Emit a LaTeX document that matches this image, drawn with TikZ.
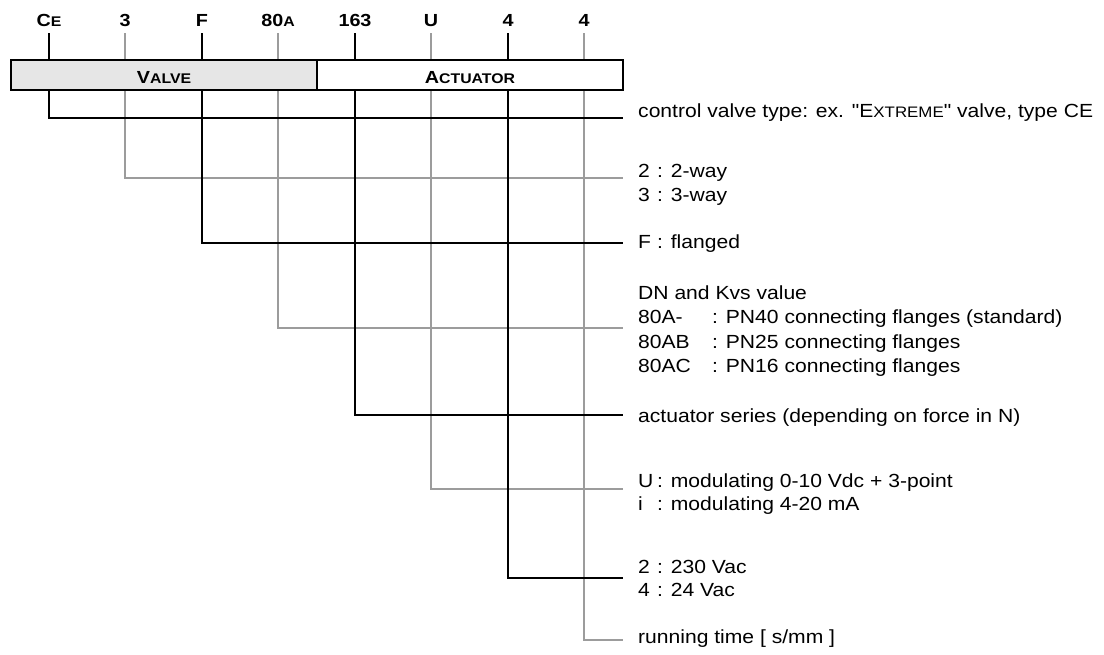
\documentclass[tikz,border=0pt]{standalone}
\usepackage{fontspec}
\usepackage{graphicx}
\newfontfamily\arialish{Liberation Sans}
\newcommand\hsr[1]{\scalebox{1.11}[1]{#1}}
\newcommand\hsb[1]{\scalebox{1.13}[1]{#1}}
\newcommand\smcb[1]{{\fontsize{14}{15}\selectfont #1}}
\newcommand\smcr[1]{{\fontsize{15.2}{16}\selectfont #1}}
\definecolor{valvefill}{HTML}{E6E6E6}
\definecolor{lightline}{HTML}{9C9C9C}
\begin{document}
\begin{tikzpicture}[x=1pt,y=-1pt,
  code/.style={font=\arialish\fontsize{17.5}{18}\selectfont\bfseries, inner sep=0pt, anchor=base},
  desc/.style={font=\arialish\fontsize{19}{20}\selectfont, inner sep=0pt, anchor=base west},
  blk/.style={line width=1.6pt, draw=black},
  gry/.style={line width=1.6pt, draw=lightline},
  part/.style={draw=black, line width=2pt, minimum height=30pt, inner sep=0pt,
    text height=16.6pt, text depth=0pt,
    font=\arialish\fontsize{17.5}{18}\selectfont\bfseries}]
\useasboundingbox (0,0) rectangle (1104,654);

% code letters
\node[code] (cCE) at (49,26.7) {\hsb{C\smcb{E}}};
\node[code] (c3) at (125,26.7) {\hsb{3}};
\node[code] (cF) at (202,26.7) {\hsb{F}};
\node[code] (c80) at (278,26.7) {\hsb{80\smcb{A}}};
\node[code] (c163) at (355,26.7) {\hsb{163}};
\node[code] (cU) at (431,26.7) {\hsb{U}};
\node[code] (c4a) at (508,26.7) {\hsb{4}};
\node[code] (c4b) at (584,26.7) {\hsb{4}};

% tick tops
\coordinate (tCE) at (49,33);
\coordinate (t3) at (125,33);
\coordinate (tF) at (202,33);
\coordinate (t80) at (278,33);
\coordinate (t163) at (355,33);
\coordinate (tU) at (431,33);
\coordinate (t4a) at (508,33);
\coordinate (t4b) at (584,33);

% line ends
\coordinate (eCE) at (623,118);
\coordinate (e3) at (623,178);
\coordinate (eF) at (623,243);
\coordinate (e80) at (623,328);
\coordinate (e163) at (623,415);
\coordinate (eU) at (623,489);
\coordinate (e4a) at (623,578);
\coordinate (e4b) at (623,640);

% connectors
\draw[gry] (t3) |- (e3);
\draw[gry] (t80) |- (e80);
\draw[gry] (tU) |- (eU);
\draw[gry] (t4b) |- (e4b);
\draw[blk] (tCE) |- (eCE);
\draw[blk] (tF) |- (eF);
\draw[blk] (t163) |- (e163);
\draw[blk] (t4a) |- (e4a);

% boxes
\node[part, fill=valvefill, minimum width=306pt] (valve) at (164,75) {\hsb{V\smcb{ALVE}}};
\node[part, fill=white, minimum width=306pt] (act) at (470,75) {\hsb{A\smcb{CTUATOR}}};

% descriptions
\node[desc] (dCE) at (638,117) {\hsr{control valve type: ex. "E\smcr{XTREME}" valve, type CE}};
\node[desc] (d3a) at (638,177) {\hsr{\makebox[17.1pt][l]{2}: 2-way}};
\node[desc] (d3b) at (638,201) {\hsr{\makebox[17.1pt][l]{3}: 3-way}};
\node[desc] (dF) at (638,248) {\hsr{\makebox[17.1pt][l]{F}: flanged}};
\node[desc] (dDN) at (638,299) {\hsr{DN and Kvs value}};
\node[desc] (dA) at (638,323) {\hsr{\makebox[66.7pt][l]{80A-}: PN40 connecting flanges (standard)}};
\node[desc] (dB) at (638,348) {\hsr{\makebox[66.7pt][l]{80AB}: PN25 connecting flanges}};
\node[desc] (dC) at (638,372) {\hsr{\makebox[66.7pt][l]{80AC}: PN16 connecting flanges}};
\node[desc] (d163) at (638,422) {\hsr{actuator series (depending on force in N)}};
\node[desc] (dU) at (638,487) {\hsr{\makebox[17.1pt][l]{U}: modulating 0-10 Vdc + 3-point}};
\node[desc] (di) at (638,510) {\hsr{\makebox[17.1pt][l]{i}: modulating 4-20 mA}};
\node[desc] (d2) at (638,573) {\hsr{\makebox[17.1pt][l]{2}: 230 Vac}};
\node[desc] (d4) at (638,596) {\hsr{\makebox[17.1pt][l]{4}: 24 Vac}};
\node[desc] (dt) at (638,643) {\hsr{running time [ s/mm ]}};
\end{tikzpicture}
\end{document}
